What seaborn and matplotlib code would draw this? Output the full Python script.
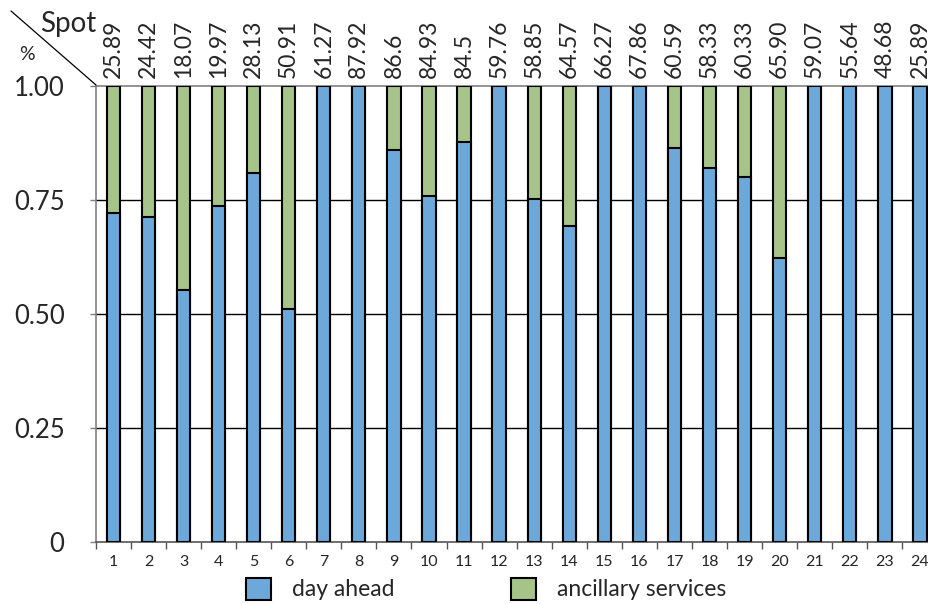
import numpy as np
import pandas as pd
import matplotlib
matplotlib.use("Agg")
import matplotlib.pyplot as plt
from matplotlib.patches import Patch
from matplotlib.lines import Line2D
import seaborn as sns

hours = [str(h) for h in range(1, 25)]
day_ahead = [0.720, 0.713, 0.551, 0.736, 0.808, 0.510, 1.0, 1.0, 0.859, 0.759,
             0.877, 1.0, 0.751, 0.692, 1.0, 1.0, 0.864, 0.819, 0.800, 0.623,
             1.0, 1.0, 1.0, 1.0]
ancillary = [round(1 - v, 3) for v in day_ahead]
spot_labels = ["25.89", "24.42", "18.07", "19.97", "28.13", "50.91", "61.27", "87.92",
               "86.6", "84.93", "84.5", "59.76", "58.85", "64.57", "66.27", "67.86",
               "60.59", "58.33", "60.33", "65.90", "59.07", "55.64", "48.68", "25.89"]
y_ticks = [0, 0.25, 0.5, 0.75, 1.0]
y_ticklabels = ["0", "0.25", "0.50", "0.75", "1.00"]
legend_labels = ["day ahead", "ancillary services"]

blue = "#6CA9DA"
green = "#A6C48A"

sns.set_theme(style="white")
plt.rcParams["font.family"] = ["Lato", "DejaVu Sans"]

df = pd.DataFrame({"hour": hours, "day_ahead": day_ahead, "ancillary": ancillary})
df["total"] = df["day_ahead"] + df["ancillary"]

fig = plt.figure(figsize=(9.29, 6.04), dpi=100)
ax = fig.add_axes([95.8 / 929, 0.1026, 841.7 / 929, 0.7558])

sns.barplot(data=df, x="hour", y="total", order=hours, color=green, width=0.38,
            edgecolor="black", linewidth=1.5, saturation=1, ax=ax, zorder=3)
sns.barplot(data=df, x="hour", y="day_ahead", order=hours, color=blue, width=0.38,
            edgecolor="black", linewidth=1.5, saturation=1, ax=ax, zorder=4)

ax.set_xlim(-0.5, 23.5)
ax.set_ylim(0, 1.0)
ax.set_xlabel("")
ax.set_ylabel("")

ax.set_yticks(y_ticks)
ax.set_yticklabels(y_ticklabels, fontsize=18.5)
for y in y_ticks[1:-1]:
    ax.axhline(y, color="black", lw=1.0, zorder=1)

ax.tick_params(axis="y", which="major", length=4, width=1, color="#808080",
               direction="out", pad=18.5, left=True)
ax.tick_params(axis="x", which="major", length=0, pad=9, labelsize=11.5)
ax.set_xticks(np.arange(-0.5, 24, 1), minor=True)
ax.tick_params(axis="x", which="minor", length=5, width=1, color="#555555",
               direction="out", bottom=True)

for side in ["left", "top"]:
    ax.spines[side].set_color("#808080")
    ax.spines[side].set_linewidth(1.2)
ax.spines["bottom"].set_color("#555555")
ax.spines["bottom"].set_linewidth(1.2)
ax.spines["right"].set_visible(False)

for i, lab in enumerate(spot_labels):
    ax.text(i, 1.016, lab, rotation=90, ha="center", va="bottom", fontsize=16.5,
            clip_on=False)

# corner header
fig.add_artist(Line2D([11 / 929, 96 / 929], [1 - 11 / 604, 1 - 85 / 604],
                      color="black", lw=0.9))
fig.text(96 / 929, 1 - 24 / 604, "Spot", ha="right", va="center", fontsize=20)
fig.text(27 / 929, 1 - 54 / 604, "%", ha="center", va="center", fontsize=14)

handles = [Patch(facecolor=blue, edgecolor="black", lw=1.5),
           Patch(facecolor=green, edgecolor="black", lw=1.5)]
fig.legend(handles, legend_labels, loc="center", bbox_to_anchor=(486 / 929, 1 - 589 / 604),
           ncol=2, frameon=False, fontsize=16.5, handlelength=1.1, handleheight=1.1,
           handletextpad=0.9, columnspacing=5.1, borderpad=0)

fig.savefig("out.png", dpi=100)
